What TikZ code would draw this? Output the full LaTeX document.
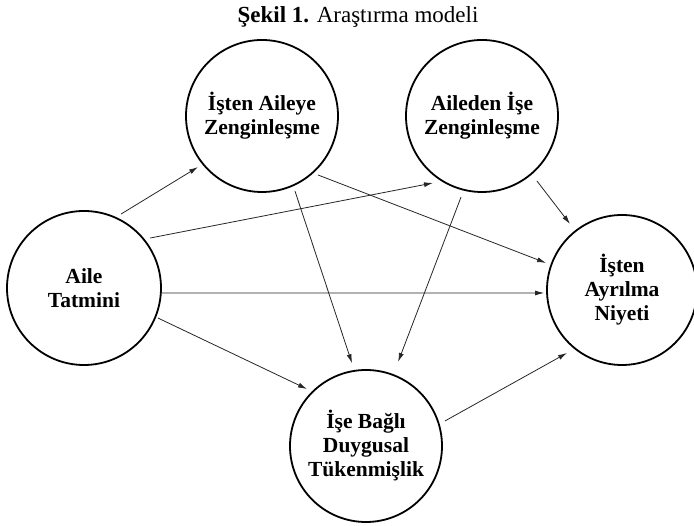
\documentclass[tikz,border=0pt]{standalone}
\usepackage{fontspec}
\setmainfont{Liberation Serif}
\usetikzlibrary{calc,arrows.meta}
\begin{document}
\begin{tikzpicture}[x=1pt,y=1pt,
  construct/.style={circle,draw=black,line width=1.8pt,inner sep=0pt,outer sep=0pt,
    align=center,font=\bfseries\fontsize{21.5}{24}\selectfont},
  link/.style={-{Latex[length=9pt,width=5pt]},line width=0.8pt,draw=black!85}]
\useasboundingbox (0,0) rectangle (694,526);

% title
\node[font=\fontsize{23}{27}\selectfont,anchor=base,inner sep=0pt] (title) at (358,503)
  {\textbf{Şekil 1.} Araştırma modeli};

% constructs
\node[construct,minimum size=154pt] (at) at (84,238) {Aile\\Tatmini};
\node[construct,minimum size=152pt] (ia) at (262,410) {İşten Aileye\\Zenginleşme};
\node[construct,minimum size=152pt] (ai) at (482,410) {Aileden İşe\\Zenginleşme};
\node[construct,minimum size=150pt] (an) at (622,236) {İşten\\Ayrılma\\Niyeti};
\node[construct,minimum size=152pt] (dt) at (366,80) {İşe Bağlı\\Duygusal\\Tükenmişlik};

% paths
\draw[link] ($(at.center)+(63.4:82.7)$) -- ($(ia.center)+(218.6:81.8)$);
\draw[link] ($(at.center)+(37.1:82.8)$) -- ($(ai.center)+(233.8:83)$);
\draw[link] ($(ia.center)+(-46.5:81.3)$) -- ($(an.center)+(160.4:80.6)$);
\draw[link] ($(ai.center)+(-49.8:85)$) -- ($(an.center)+(128.2:84)$);
\draw[link] ($(at.center)+(-3.7:78)$) -- ($(an.center)+(182.2:78)$);
\draw[link] ($(ia.center)+(-66.3:82)$) -- ($(dt.center)+(99.6:84)$);
\draw[link] ($(ai.center)+(255.5:83.7)$) -- ($(dt.center)+(69.1:90)$);
\draw[link] ($(at.center)+(-22.1:79.8)$) -- ($(dt.center)+(136:82)$);
\draw[link] ($(dt.center)+(17.6:82.9)$) -- ($(an.center)+(228.9:83.6)$);
\end{tikzpicture}
\end{document}
